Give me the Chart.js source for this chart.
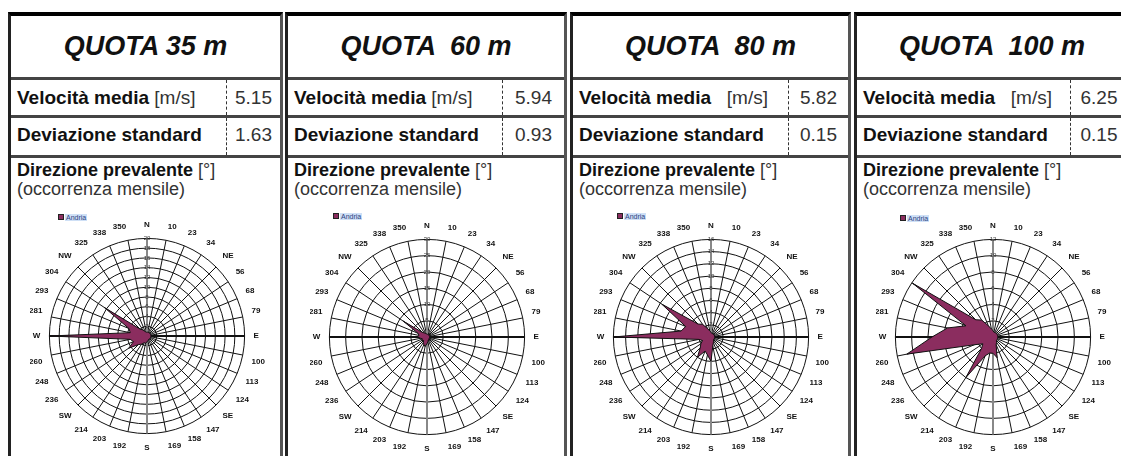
<!DOCTYPE html>
<html lang="it">
<head>
<meta charset="UTF-8">
<title>Quote anemometriche</title>
<script src="https://cdn.jsdelivr.net/npm/chart.js"></script>
<style>
  body { margin:0; width:1121px; height:456px; overflow:hidden; background:#fff;
         font-family:"Liberation Sans", Arial, sans-serif; position:relative; }
  .panel { position:absolute; top:12px; height:470px; box-sizing:border-box;
           border-top:4px solid #000; border-left:3px solid #222; border-right:3px solid #555; }
  .titolo { height:61px; border-bottom:3px solid #444; text-align:center; font-style:italic;
            font-weight:bold; font-size:27px; line-height:61px; color:#111; white-space:pre; }
  .riga { display:flex; border-bottom:3px solid #444; font-size:19px; }
  .riga .lab { flex:1; padding-left:6px; font-weight:bold; color:#111; white-space:pre; }
  .riga .lab span { font-weight:normal; color:#333; }
  .riga .val { box-sizing:border-box; border-left:1px dashed #333; text-align:center; color:#333; }
  .dir { padding:3px 0 0 6px; font-size:18px; line-height:19px; color:#111; }
  .dir b span { font-weight:normal; color:#333; }
  .dir .sub { color:#333; }
  .leg { position:absolute; font-size:7px; line-height:8px; color:#2b3f7e; white-space:nowrap; }
  .leg i { display:inline-block; width:4px; height:4px; background:#8b2d5f; border:1px solid #222;
           margin-right:1px; vertical-align:0; }
  .leg span { background:#cfe0f6; padding:0 1px; }
  .rosa { position:absolute; }
</style>
</head>
<body>
<script>
  const dirLabels = ['N','10','23','34','NE','56','68','79','E','100','113','124','SE','147','158','169',
                     'S','192','203','214','SW','236','248','260','W','281','293','304','NW','325','338','350'];
  const quote = ['QUOTA 35 m', 'QUOTA  60 m', 'QUOTA  80 m', 'QUOTA  100 m'];
  const velLabel = ['Velocità media ', 'Velocità media ', 'Velocità media   ', 'Velocità media   '];
  const velMedia = [5.15, 5.94, 5.82, 6.25];
  const devStd = [1.63, 0.93, 0.15, 0.15];
  const scaleMax = [20, 30, 16, 12];
  const scaleStep = [2, 5, 2, 2];
  const serieNome = 'Andria';

  // occorrenza mensile per direzione (N ... 350)
  const occ35  = [0.8,0.8,0.8,0.8,0.8,0.8,0.8,0.8,0.8,0.8,0.8,0.8,0.8,0.8,0.8,1,
                  1.2,1.5,1.5,2,2.5,4.5,3,3.5,20,3.5,4,10.5,2,1.5,1,0.8];
  const occ60  = [1,0.8,0.8,0.8,0.8,0.8,0.8,0.8,0.8,0.8,0.8,0.8,0.8,1,1,1.5,
                  2,3,2.5,2,1.5,2,1.5,2,3,2.5,3,8.8,2,1.5,1.2,1];
  const occ80  = [0.8,0.6,0.6,0.6,0.6,0.6,0.6,0.6,0.6,0.6,0.6,0.6,0.6,0.8,1,1.5,
                  4,3,2.5,4,2.5,2,1.5,2,16,5,4.5,9.7,3,2.5,1.5,1];
  const occ100 = [0.8,0.6,0.6,0.6,0.6,0.6,0.6,0.6,0.6,0.6,0.6,0.6,0.6,0.8,1,2.6,
                  2,2,2.5,6,2,1.5,2.5,10.8,7.5,5.7,3.6,11.9,3,2.5,1.5,1];
  const serie = [occ35, occ60, occ80, occ100];

  // layout
  const panelLeft = [8, 285, 570, 854];
  const panelWidth = [275, 282, 281, 276];
  const valWidth = [54, 62, 60, 57];
  const rowH = [35, 37];
  const center = [[148, 336], [428, 337], [712, 337], [994, 337]];
  const legPos = [[58, 214], [333, 213], [617, 213], [900, 215]];
  const S = 236;
  const font = '"Liberation Sans", Arial, sans-serif';

  quote.forEach((q, k) => {
    const p = document.createElement('div');
    p.className = 'panel';
    p.style.left = panelLeft[k] + 'px';
    p.style.width = panelWidth[k] + 'px';
    p.innerHTML =
      `<div class="titolo">${q}</div>` +
      `<div class="riga" style="height:${rowH[0]}px;line-height:${rowH[0]}px"><div class="lab">${velLabel[k]}<span>[m/s]</span></div>` +
      `<div class="val" style="width:${valWidth[k]}px">${velMedia[k].toFixed(2)}</div></div>` +
      `<div class="riga" style="height:${rowH[1]}px;line-height:${rowH[1] - 4}px"><div class="lab">Deviazione standard</div>` +
      `<div class="val" style="width:${valWidth[k]}px">${devStd[k].toFixed(2)}</div></div>` +
      `<div class="dir"><b>Direzione prevalente <span>[°]</span></b><br><span class="sub">(occorrenza mensile)</span></div>`;
    document.body.appendChild(p);

    const leg = document.createElement('div');
    leg.className = 'leg';
    leg.style.left = legPos[k][0] + 'px';
    leg.style.top = legPos[k][1] + 'px';
    leg.innerHTML = `<i></i><span>${serieNome}</span>`;
    document.body.appendChild(leg);

    const wrap = document.createElement('div');
    wrap.className = 'rosa';
    wrap.style.left = (center[k][0] - S / 2) + 'px';
    wrap.style.top = (center[k][1] - S / 2) + 'px';
    const cv = document.createElement('canvas');
    cv.width = S; cv.height = S;
    wrap.appendChild(cv);
    document.body.appendChild(wrap);

    new Chart(cv.getContext('2d'), {
      type: 'radar',
      data: {
        labels: dirLabels,
        datasets: [{
          label: serieNome,
          data: serie[k],
          backgroundColor: '#8b2d5f',
          borderColor: '#111',
          borderWidth: 1,
          pointRadius: 0,
          fill: true
        }]
      },
      options: {
        responsive: false,
        animation: false,
        plugins: { legend: { display: false }, tooltip: { enabled: false } },
        scales: {
          r: {
            min: 0,
            max: scaleMax[k],
            ticks: { stepSize: scaleStep[k], showLabelBackdrop: false, color: '#333',
                     font: { size: 6, family: font } },
            grid: { circular: true, color: '#111', lineWidth: 1 },
            angleLines: {
              color: c => (c.index === 0 || c.index === 16) ? '#888' : '#111',
              lineWidth: c => c.index % 8 === 0 ? 2 : 1
            },
            pointLabels: { color: '#111', padding: 4, font: { size: 8, weight: 'bold', family: font } }
          }
        }
      }
    });
  });
</script>
</body>
</html>
